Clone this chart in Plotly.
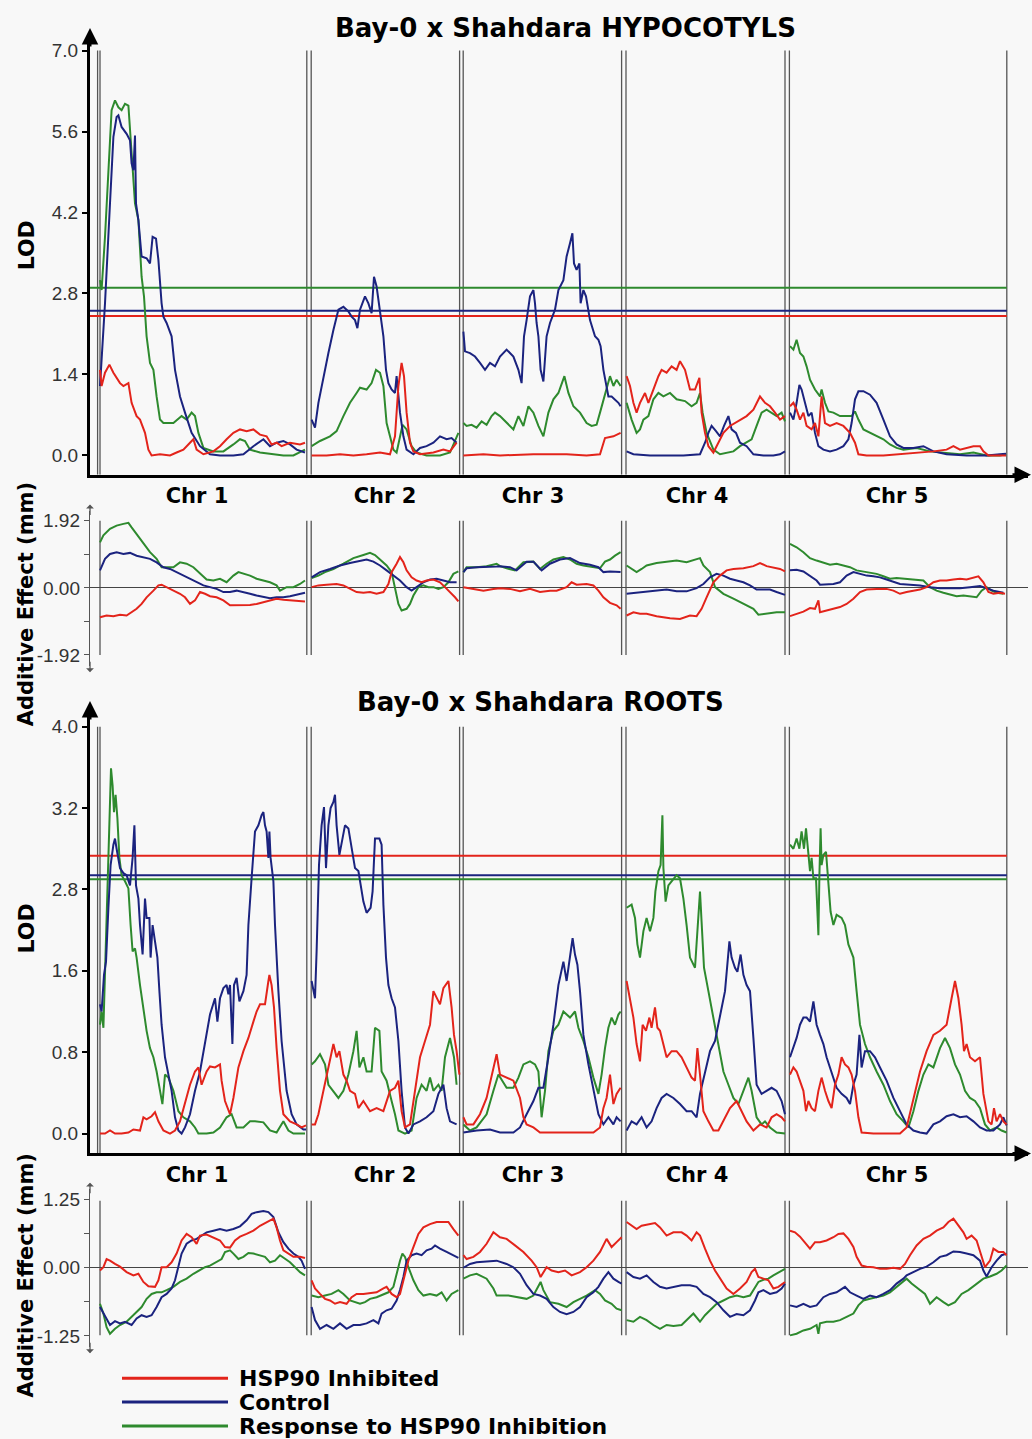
import plotly.graph_objects as go

W, H = 1032, 1439

# ---------------- categories / labels ----------------
SERIES = ["HSP90 Inhibited", "Control", "Response to HSP90 Inhibition"]
COLORS = ["#e3241b", "#1b237f", "#2e8a2e"]

CHROMS = ["Chr 1", "Chr 2", "Chr 3", "Chr 4", "Chr 5"]
CHR_START = [0.0, 105.6, 181.6, 263.0, 344.7]      # cumulative cM
CHR_END = [103.4, 179.8, 260.8, 342.5, 453.4]
CHR_LABEL_POS = [48.5, 142.5, 216.5, 298.5, 398.5]

# significance thresholds (order as SERIES)
HYP_THRESH = [2.41, 2.50, 2.90]
ROOT_THRESH = [2.73, 2.54, 2.50]

HYP_LOD_TICKS = [0.0, 1.4, 2.8, 4.2, 5.6, 7.0]
HYP_LOD_TICKTEXT = ["0.0", "1.4", "2.8", "4.2", "5.6", "7.0"]
ROOT_LOD_TICKS = [0.0, 0.8, 1.6, 2.4, 3.2, 4.0]
ROOT_LOD_TICKTEXT = ["0.0", "0.8", "1.6", "2.8", "3.2", "4.0"]   # as printed in the source
HYP_ADD_TICKS = [-1.92, -0.96, 0.0, 0.96, 1.92]
HYP_ADD_TICKTEXT = ["-1.92", "", "0.00", "", "1.92"]
ROOT_ADD_TICKS = [-1.25, -0.625, 0.0, 0.625, 1.25]
ROOT_ADD_TICKTEXT = ["-1.25", "", "0.00", "", "1.25"]

# ---------------- data: (position cM, value) ----------------
HYP_LOD_INH = [(0.0,1.48),(0.8,1.20),(2.5,1.43),(4.7,1.57),(6.7,1.43),(10.0,1.25),(11.7,1.20),(14.2,1.25),(15.8,0.91),(18.3,0.68),(20.0,0.62),(22.5,0.39),(24.2,0.10),(25.8,0.0),(30.0,0.02),(35.0,0.0),(38.3,0.05),(41.7,0.10),(45.0,0.22),(46.7,0.28),(48.3,0.10),(51.7,0.02),(56.7,0.07),(60.0,0.16),(63.3,0.28),(66.7,0.39),(70.0,0.45),(73.3,0.42),(76.7,0.45),(80.0,0.36),(83.3,0.33),(85.8,0.19),(88.3,0.22),(90.8,0.16),(95.0,0.22),(100.0,0.19),(102.5,0.22),
    (105.8,0.0),(113.3,0.0),(120.0,0.02),(126.7,0.0),(133.3,0.02),(140.0,0.05),(145.0,0.02),(147.5,0.33),(149.2,1.20),(150.8,1.60),(152.0,1.37),(153.3,0.74),(155.0,0.22),(156.7,0.07),(160.0,0.02),(166.7,0.05),(171.7,0.10),(175.0,0.07),(178.3,0.22),
    (181.7,0.0),(191.7,0.02),(200.0,0.0),(216.7,0.02),(233.3,0.02),(243.3,0.0),(250.0,0.02),(252.5,0.30),(256.7,0.33),(260.3,0.39),
    (263.3,1.37),(265.0,1.20),(266.7,0.91),(268.3,0.74),(270.0,0.91),(272.5,1.08),(274.2,0.91),(276.7,1.14),(279.2,1.37),(280.8,1.48),(283.3,1.43),(285.8,1.54),(288.3,1.48),(290.0,1.63),(292.5,1.48),(295.0,1.14),(297.5,1.14),(299.7,1.34),(300.8,0.74),(302.5,0.39),(304.2,0.16),(306.7,0.05),(309.2,0.22),(311.7,0.39),(315.0,0.51),(317.5,0.56),(320.0,0.62),(323.3,0.68),(326.7,0.79),(330.0,1.02),(332.5,0.91),(335.0,0.85),(337.5,0.74),(340.0,0.62),(342.5,0.68),
    (345.0,0.85),(346.7,0.91),(348.3,0.79),(350.0,0.62),(351.7,0.74),(353.3,0.51),(355.8,0.45),(357.5,0.56),(359.2,0.33),(360.8,1.02),(362.5,0.56),(365.0,0.51),(368.3,0.56),(371.7,0.51),(375.0,0.39),(377.5,0.22),(379.2,0.02),(383.3,0.0),(391.7,0.0),(400.0,0.02),(408.3,0.05),(416.7,0.07),(423.3,0.10),(426.7,0.16),(430.0,0.10),(433.3,0.13),(436.7,0.16),(440.0,0.16),(441.7,0.07),(444.2,0.0),(450.0,0.0),(453.0,0.0)]

HYP_LOD_CTL = [(0.0,1.20),(2.5,2.63),(5.0,4.36),(6.7,5.51),(8.3,5.85),(9.2,5.88),(10.8,5.68),(13.3,5.56),(15.0,5.45),(15.8,5.05),(16.7,4.93),(17.5,5.53),(18.0,4.36),(19.2,4.07),(20.8,3.44),(23.3,3.41),(25.0,3.32),(26.3,3.78),(28.0,3.75),(29.2,3.38),(30.8,2.63),(31.7,2.40),(33.3,2.29),(35.8,2.06),(37.5,1.48),(40.0,1.02),(42.5,0.74),(45.8,0.39),(50.0,0.16),(55.0,0.02),(60.0,0.0),(66.7,0.0),(71.7,0.02),(76.7,0.16),(81.7,0.28),(85.0,0.16),(88.3,0.22),(91.7,0.25),(95.0,0.19),(98.3,0.10),(102.5,0.05),
    (105.8,0.62),(107.5,0.48),(109.2,0.91),(111.7,1.37),(114.2,1.77),(116.7,2.17),(119.2,2.52),(121.7,2.57),(124.2,2.49),(125.8,2.40),(127.5,2.34),(128.7,2.20),(130.0,2.52),(132.5,2.75),(134.2,2.63),(135.8,2.46),(137.0,3.09),(138.3,2.92),(140.0,2.52),(141.7,2.06),(143.0,1.48),(144.2,1.25),(145.8,1.14),(147.5,1.08),(148.3,1.37),(149.2,1.08),(150.0,0.74),(151.7,0.33),(153.3,0.10),(156.7,0.02),(160.0,0.13),(163.3,0.16),(166.7,0.22),(170.0,0.33),(173.3,0.28),(175.8,0.30),(178.3,0.22),
    (181.7,2.14),(182.5,1.80),(185.0,1.77),(187.5,1.71),(190.0,1.60),(192.5,1.48),(195.0,1.60),(197.5,1.54),(200.0,1.71),(203.3,1.83),(206.7,1.71),(209.2,1.48),(210.8,1.25),(212.0,2.06),(213.3,2.34),(215.0,2.75),(216.7,2.86),(217.5,2.63),(218.3,2.29),(219.2,2.06),(220.3,1.48),(221.7,1.28),(223.3,2.06),(225.0,2.29),(227.5,2.52),(229.2,2.86),(231.7,3.03),(233.3,3.44),(235.0,3.67),(236.2,3.84),(237.0,3.32),(238.3,3.21),(239.7,3.32),(240.3,2.63),(241.7,2.86),(243.0,2.75),(245.0,2.34),(247.5,2.06),(249.2,2.00),(250.3,1.89),(251.7,1.48),(253.0,1.20),(254.2,1.02),(255.8,1.02),(257.5,0.97),(259.2,0.91),(260.3,0.85),
    (263.3,0.07),(266.7,0.02),(275.0,0.0),(283.3,0.0),(291.7,0.0),(300.0,0.02),(302.5,0.22),(304.2,0.39),(305.8,0.51),(308.0,0.42),(310.0,0.33),(312.0,0.51),(314.2,0.68),(315.8,0.45),(318.0,0.39),(320.0,0.22),(323.3,0.16),(326.7,0.02),(331.7,0.0),(336.7,0.0),(340.0,0.02),(342.5,0.07),
    (345.0,0.74),(346.7,0.62),(348.3,0.91),(349.7,1.22),(350.8,1.14),(352.5,0.91),(354.2,0.68),(355.8,0.74),(357.5,0.39),(359.2,0.16),(361.7,0.10),(365.0,0.07),(368.3,0.10),(371.7,0.16),(374.2,0.28),(375.8,0.56),(377.5,0.97),(379.2,1.11),(381.7,1.11),(385.0,1.05),(388.3,0.91),(391.7,0.62),(395.0,0.33),(398.3,0.19),(401.7,0.13),(406.7,0.13),(411.7,0.16),(416.7,0.07),(423.3,0.02),(433.3,0.0),(443.3,0.0),(450.0,0.02),(453.0,0.03)]

HYP_LOD_RSP = [(0.0,3.03),(0.8,2.86),(2.5,3.78),(4.2,4.93),(5.8,5.97),(7.5,6.14),(9.2,6.02),(10.8,5.97),(12.5,6.08),(14.2,6.05),(15.8,5.22),(17.5,4.36),(19.2,4.07),(20.8,3.09),(22.0,2.75),(23.3,2.06),(25.0,1.60),(26.7,1.48),(28.3,1.02),(30.0,0.62),(31.7,0.56),(36.7,0.56),(40.8,0.68),(43.3,0.62),(45.8,0.74),(47.5,0.68),(49.2,0.39),(51.7,0.13),(56.7,0.07),(61.7,0.07),(66.7,0.19),(70.0,0.28),(72.5,0.25),(75.0,0.10),(80.0,0.05),(86.7,0.02),(91.7,0.0),(96.7,0.0),(102.5,0.10),
    (105.8,0.16),(110.0,0.25),(115.0,0.33),(118.3,0.42),(121.7,0.68),(125.0,0.91),(128.3,1.08),(130.0,1.17),(133.3,1.14),(135.8,1.25),(138.0,1.48),(140.0,1.43),(141.7,1.20),(143.3,0.56),(145.0,0.33),(146.7,0.10),(148.3,0.05),(150.0,0.33),(151.3,0.53),(153.3,0.45),(155.8,0.16),(158.3,0.05),(163.3,0.0),(170.0,0.0),(175.0,0.05),(179.2,0.39),
    (181.7,0.56),(183.3,0.51),(185.8,0.53),(188.3,0.48),(190.8,0.59),(193.3,0.53),(195.8,0.68),(197.5,0.74),(200.0,0.68),(203.3,0.56),(206.7,0.45),(209.2,0.68),(211.7,0.51),(214.2,0.85),(216.7,0.74),(219.2,0.51),(221.7,0.33),(224.2,0.74),(226.7,0.97),(229.2,1.08),(232.2,1.37),(234.2,1.08),(236.7,0.85),(240.0,0.74),(243.3,0.56),(245.8,0.51),(248.3,0.53),(250.0,0.74),(252.5,1.08),(255.0,1.37),(256.7,1.20),(258.3,1.31),(260.3,1.20),
    (263.3,0.91),(265.8,0.62),(268.3,0.39),(270.0,0.45),(271.7,0.62),(274.2,0.68),(276.7,0.97),(279.2,1.08),(281.7,1.02),(285.0,1.08),(288.3,0.97),(292.5,0.94),(295.8,0.85),(298.3,0.91),(300.0,1.08),(301.3,0.74),(303.3,0.39),(306.7,0.10),(310.0,0.02),(313.3,0.05),(316.7,0.07),(320.0,0.16),(323.3,0.22),(325.8,0.28),(328.3,0.51),(330.8,0.74),(333.3,0.79),(335.8,0.74),(338.3,0.68),(340.8,0.74),(342.5,0.59),
    (345.0,1.89),(346.7,1.83),(348.3,2.00),(350.0,1.77),(351.7,1.71),(353.3,1.54),(355.0,1.31),(357.5,1.14),(360.0,1.02),(360.8,1.14),(362.5,0.91),(364.2,0.76),(366.7,0.74),(370.0,0.68),(373.3,0.68),(375.8,0.68),(377.5,0.76),(379.2,0.62),(381.7,0.45),(385.0,0.39),(388.3,0.33),(391.7,0.28),(395.0,0.19),(398.3,0.13),(401.7,0.10),(408.3,0.13),(415.0,0.07),(421.7,0.05),(430.0,0.02),(436.7,0.05),(443.3,0.0),(450.0,0.0),(453.0,0.02)]

HYP_ADD_INH = [(0.0,-0.84),(3.3,-0.79),(6.7,-0.81),(10.0,-0.77),(13.3,-0.79),(15.8,-0.70),(18.3,-0.60),(20.8,-0.46),(23.3,-0.27),(26.7,-0.08),(29.2,0.07),(30.8,0.09),(33.3,0.02),(36.7,-0.08),(40.0,-0.17),(42.5,-0.27),(45.0,-0.46),(47.5,-0.36),(50.0,-0.12),(52.5,-0.17),(55.0,-0.24),(58.3,-0.27),(61.7,-0.36),(65.0,-0.50),(68.3,-0.50),(71.7,-0.49),(75.0,-0.49),(78.3,-0.46),(81.7,-0.41),(85.0,-0.36),(88.3,-0.31),(91.7,-0.34),(95.0,-0.36),(98.3,-0.36),(102.5,-0.39),
    (105.8,0.02),(109.2,0.07),(113.3,0.09),(118.3,0.11),(121.7,0.07),(125.0,-0.03),(128.3,-0.12),(131.7,-0.14),(135.0,-0.12),(138.3,-0.17),(141.7,-0.12),(144.2,0.11),(145.8,0.45),(148.3,0.69),(150.0,0.88),(151.7,0.73),(153.3,0.50),(155.8,0.30),(158.3,0.21),(160.8,0.16),(163.3,0.21),(166.7,0.24),(170.0,0.16),(172.5,0.02),(175.0,-0.12),(177.5,-0.27),(179.2,-0.39),
    (181.7,0.02),(186.7,-0.03),(191.7,-0.08),(196.7,-0.03),(200.0,-0.01),(205.0,-0.03),(210.0,-0.10),(215.0,-0.03),(220.0,-0.12),(225.0,-0.08),(228.3,-0.08),(233.3,0.02),(235.8,0.16),(238.3,0.09),(243.3,0.11),(246.7,0.07),(249.2,-0.08),(251.7,-0.27),(255.0,-0.43),(258.3,-0.50),(260.3,-0.60),
    (263.3,-0.79),(266.7,-0.70),(270.0,-0.74),(273.3,-0.74),(278.3,-0.81),(281.7,-0.84),(285.0,-0.87),(290.0,-0.89),(295.0,-0.79),(298.3,-0.81),(300.8,-0.60),(303.3,-0.27),(306.7,0.16),(310.0,0.35),(313.3,0.50),(316.7,0.54),(321.7,0.56),(326.7,0.62),(330.0,0.71),(333.3,0.62),(336.7,0.59),(340.0,0.54),(342.5,0.47),
    (345.0,-0.81),(348.3,-0.74),(351.7,-0.68),(355.0,-0.58),(357.5,-0.60),(359.2,-0.36),(360.0,-0.70),(363.3,-0.65),(366.7,-0.60),(370.0,-0.55),(373.3,-0.46),(376.7,-0.31),(380.0,-0.12),(383.3,-0.05),(388.3,-0.03),(393.3,-0.03),(396.7,-0.08),(400.0,-0.17),(403.3,-0.12),(406.7,-0.08),(410.0,-0.05),(413.3,0.02),(416.7,0.16),(420.0,0.21),(423.3,0.21),(426.7,0.24),(430.0,0.26),(433.3,0.24),(436.7,0.28),(439.2,0.33),(441.7,0.16),(444.2,-0.12),(446.7,-0.17),(450.0,-0.14),(452.5,-0.17)]

HYP_ADD_CTL = [(0.0,0.50),(2.5,0.83),(5.0,0.97),(8.3,1.02),(11.7,0.97),(15.0,1.00),(18.3,0.92),(21.7,0.88),(25.0,0.83),(28.3,0.73),(31.7,0.59),(35.0,0.54),(38.3,0.45),(41.7,0.35),(45.0,0.26),(48.3,0.16),(51.7,0.07),(55.0,0.02),(58.3,-0.03),(61.7,-0.12),(65.0,-0.12),(68.3,-0.08),(71.7,-0.12),(75.0,-0.17),(78.3,-0.22),(81.7,-0.27),(85.0,-0.30),(88.3,-0.27),(91.7,-0.27),(95.0,-0.24),(98.3,-0.20),(102.5,-0.14),
    (105.8,0.30),(110.0,0.45),(115.0,0.54),(120.0,0.64),(125.0,0.71),(130.0,0.78),(133.3,0.81),(136.7,0.75),(140.0,0.64),(143.3,0.50),(146.7,0.35),(150.0,0.21),(153.3,0.02),(155.8,-0.08),(158.3,0.02),(161.7,0.16),(165.0,0.24),(168.3,0.26),(171.7,0.21),(175.0,0.16),(178.3,0.16),
    (181.7,0.45),(183.3,0.56),(188.3,0.59),(193.3,0.59),(198.3,0.61),(200.0,0.62),(205.0,0.59),(208.3,0.50),(213.3,0.75),(216.7,0.75),(220.8,0.50),(225.0,0.69),(230.0,0.81),(235.0,0.85),(240.0,0.71),(245.0,0.66),(249.2,0.59),(251.7,0.45),(255.0,0.47),(260.3,0.45),
    (263.3,-0.17),(268.3,-0.14),(273.3,-0.10),(278.3,-0.08),(283.3,-0.05),(288.3,-0.10),(293.3,-0.10),(298.3,-0.01),(301.7,0.11),(305.0,0.30),(308.3,0.40),(311.7,0.35),(315.0,0.26),(318.3,0.21),(321.7,0.16),(325.0,0.07),(328.3,-0.05),(331.7,-0.05),(335.0,-0.05),(338.3,-0.12),(342.5,-0.20),
    (345.0,0.50),(348.3,0.52),(351.7,0.47),(355.0,0.35),(358.3,0.21),(360.0,0.09),(363.3,0.09),(366.7,0.11),(370.0,0.16),(373.3,0.35),(376.7,0.45),(380.0,0.40),(383.3,0.35),(386.7,0.33),(390.0,0.30),(393.3,0.24),(396.7,0.18),(400.0,0.11),(405.0,0.09),(410.0,0.07),(415.0,0.02),(420.0,-0.01),(425.0,-0.01),(430.0,-0.01),(435.0,0.02),(440.0,0.05),(443.3,-0.01),(446.7,-0.08),(451.7,-0.14)]

HYP_ADD_RSP = [(0.0,1.30),(1.7,1.50),(5.0,1.69),(8.3,1.78),(11.7,1.83),(14.2,1.86),(15.8,1.73),(18.3,1.54),(21.7,1.26),(25.0,1.02),(28.3,0.83),(30.8,0.59),(33.3,0.59),(36.7,0.59),(40.0,0.73),(43.3,0.69),(46.7,0.59),(50.0,0.40),(53.3,0.24),(56.7,0.21),(60.0,0.26),(63.3,0.16),(66.7,0.35),(69.2,0.45),(71.7,0.40),(75.0,0.35),(78.3,0.26),(81.7,0.21),(85.0,0.16),(88.3,0.07),(90.0,-0.08),(93.3,0.02),(96.7,0.02),(100.0,0.11),(102.5,0.21),
    (105.8,0.28),(109.2,0.35),(112.5,0.45),(116.7,0.54),(121.7,0.69),(126.7,0.85),(131.7,0.94),(135.0,1.00),(137.5,0.94),(140.0,0.81),(143.3,0.64),(145.8,0.45),(147.5,0.02),(149.2,-0.46),(150.8,-0.65),(153.3,-0.60),(155.0,-0.46),(156.7,-0.22),(159.2,0.02),(161.7,0.07),(164.2,0.02),(166.7,0.02),(169.2,-0.03),(171.7,0.02),(174.2,0.16),(176.7,0.40),(179.2,0.47),
    (181.7,0.45),(183.3,0.59),(188.3,0.59),(193.3,0.62),(198.3,0.69),(200.0,0.62),(203.3,0.56),(207.5,0.50),(211.7,0.73),(216.7,0.75),(220.0,0.54),(223.3,0.69),(226.7,0.81),(231.7,0.88),(235.0,0.81),(238.3,0.69),(241.7,0.64),(246.7,0.59),(250.0,0.56),(252.5,0.75),(255.0,0.81),(257.5,0.92),(260.3,1.02),
    (263.3,0.64),(265.8,0.54),(268.3,0.45),(270.8,0.54),(273.3,0.64),(278.3,0.71),(283.3,0.75),(288.3,0.78),(293.3,0.73),(298.3,0.81),(300.0,0.85),(301.7,0.64),(305.0,0.45),(307.5,0.02),(311.7,-0.17),(316.7,-0.31),(321.7,-0.46),(326.7,-0.60),(329.2,-0.77),(333.3,-0.74),(338.3,-0.70),(342.5,-0.70),
    (345.0,1.26),(348.3,1.16),(351.7,1.02),(355.0,0.85),(358.3,0.78),(361.7,0.73),(365.0,0.66),(368.3,0.69),(371.7,0.64),(375.0,0.59),(378.3,0.50),(381.7,0.47),(385.0,0.45),(388.3,0.40),(391.7,0.33),(395.0,0.26),(398.3,0.28),(401.7,0.26),(405.0,0.24),(408.3,0.21),(411.7,0.21),(415.0,0.02),(418.3,-0.08),(421.7,-0.14),(425.0,-0.20),(428.3,-0.24),(431.7,-0.22),(435.0,-0.24),(438.3,-0.27),(440.8,-0.08),(443.3,0.02),(445.8,-0.08),(448.3,-0.14),(451.7,-0.17)]

ROOT_LOD_INH = [(0.0,0.0),(2.5,0.0),(5.0,0.03),(7.5,0.0),(10.8,0.0),(14.2,0.01),(16.7,0.04),(20.0,0.03),(21.7,0.16),(23.3,0.14),(25.8,0.17),(27.5,0.21),(29.2,0.12),(31.7,0.03),(35.0,0.0),(37.5,0.03),(40.0,0.12),(42.5,0.29),(45.0,0.48),(47.5,0.61),(49.2,0.65),(50.8,0.48),(53.3,0.61),(55.0,0.66),(57.5,0.65),(60.0,0.68),(60.8,0.52),(62.5,0.32),(65.0,0.19),(66.7,0.35),(69.2,0.65),(71.7,0.81),(74.2,0.94),(76.7,1.10),(78.3,1.20),(80.0,1.27),(82.5,1.27),(84.2,1.50),(84.7,1.56),(85.8,1.46),(87.0,1.24),(88.3,0.84),(90.0,0.42),(91.7,0.19),(95.0,0.12),(98.3,0.09),(100.8,0.06),(103.0,0.08),
    (105.8,0.09),(107.5,0.09),(109.2,0.19),(111.7,0.42),(114.2,0.65),(116.7,0.88),(118.3,0.75),(119.7,0.81),(121.7,0.58),(123.3,0.52),(125.0,0.42),(127.5,0.39),(129.2,0.25),(131.7,0.32),(135.0,0.22),(138.3,0.25),(141.7,0.22),(145.0,0.42),(147.5,0.45),(149.2,0.52),(150.8,0.22),(152.5,0.06),(155.0,0.09),(157.5,0.42),(160.0,0.75),(162.5,0.91),(165.0,1.07),(166.7,1.40),(168.3,1.33),(170.0,1.27),(171.7,1.43),(174.2,1.50),(175.8,1.24),(177.0,0.97),(178.3,0.81),(179.7,0.58),
    (181.7,0.16),(183.3,0.09),(186.7,0.09),(190.0,0.19),(193.3,0.35),(196.7,0.65),(198.3,0.78),(200.0,0.58),(203.3,0.55),(206.7,0.52),(210.0,0.35),(211.7,0.16),(213.3,0.09),(216.7,0.06),(220.0,0.01),(226.7,0.01),(233.3,0.01),(240.0,0.01),(246.7,0.01),(250.0,0.06),(251.7,0.25),(253.3,0.35),(255.0,0.58),(256.7,0.29),(258.3,0.39),(260.3,0.45),
    (263.3,1.50),(265.0,1.33),(266.7,1.14),(268.3,0.88),(270.0,0.71),(271.3,1.07),(273.0,1.01),(274.7,1.14),(275.8,1.04),(277.5,1.24),(278.7,1.04),(280.0,1.01),(281.7,0.88),(283.3,0.75),(285.8,0.81),(288.3,0.81),(290.8,0.75),(293.3,0.65),(295.8,0.55),(297.5,0.52),(298.7,0.84),(300.0,0.58),(301.7,0.22),(304.2,0.12),(306.7,0.03),(309.2,0.03),(311.7,0.12),(315.0,0.25),(318.3,0.32),(320.8,0.22),(323.3,0.12),(326.7,0.03),(330.0,0.09),(333.3,0.06),(335.8,0.16),(338.3,0.19),(340.8,0.16),(342.5,0.12),
    (345.0,0.58),(346.7,0.65),(348.3,0.61),(350.0,0.52),(351.7,0.42),(353.0,0.22),(354.2,0.32),(355.8,0.25),(357.5,0.22),(359.2,0.42),(360.8,0.55),(362.5,0.42),(364.2,0.32),(365.8,0.25),(367.5,0.48),(369.2,0.58),(370.8,0.75),(372.5,0.68),(374.2,0.65),(375.8,0.58),(377.5,0.42),(379.2,0.16),(380.8,0.01),(386.7,0.0),(393.3,0.0),(400.0,0.0),(403.3,0.06),(406.7,0.35),(410.0,0.61),(413.3,0.81),(416.7,0.97),(420.0,1.01),(423.3,1.07),(425.8,1.33),(427.5,1.50),(429.2,1.33),(430.8,1.07),(432.0,0.81),(433.3,0.88),(435.0,0.75),(437.5,0.71),(440.0,0.75),(441.7,0.39),(444.2,0.12),(445.8,0.09),(447.0,0.25),(448.3,0.12),(450.0,0.19),(451.7,0.12),(453.3,0.09)]

ROOT_LOD_CTL = [(0.0,1.27),(0.8,1.20),(2.0,1.56),(3.0,1.69),(4.2,2.22),(5.3,2.64),(6.7,2.84),(7.5,2.90),(8.3,2.80),(10.0,2.61),(11.7,2.56),(13.3,2.54),(15.0,2.44),(16.3,2.71),(17.2,3.03),(18.0,2.44),(19.2,2.31),(20.0,2.05),(21.3,1.76),(22.5,2.31),(23.3,2.12),(24.7,2.12),(25.3,1.73),(26.3,2.05),(27.5,1.89),(28.7,1.73),(29.7,1.40),(30.8,1.07),(32.5,0.75),(34.2,0.58),(35.8,0.42),(37.5,0.16),(39.2,0.03),(40.8,0.0),(42.5,0.06),(45.0,0.19),(47.5,0.42),(50.0,0.61),(52.5,0.91),(55.0,1.17),(57.5,1.33),(58.7,1.10),(60.0,1.33),(61.7,1.43),(63.3,1.46),(64.2,1.37),(65.0,1.46),(66.2,0.88),(67.0,1.46),(68.3,1.53),(69.7,1.30),(71.7,1.40),(73.3,1.56),(74.2,2.05),(75.8,2.51),(77.5,2.97),(79.2,3.03),(80.8,3.13),(81.7,3.16),(82.5,3.03),(83.3,2.97),(84.2,2.71),(84.7,2.97),(85.3,2.71),(86.7,2.48),(87.5,2.05),(89.2,1.40),(90.8,0.91),(93.3,0.42),(95.8,0.19),(98.3,0.09),(101.7,0.04),(103.0,0.04),
    (105.8,1.50),(106.7,1.40),(107.5,1.33),(108.3,1.79),(109.5,2.64),(110.8,3.03),(112.0,3.21),(113.0,2.61),(114.2,3.03),(115.3,3.20),(116.7,3.26),(117.5,3.33),(118.3,3.03),(119.7,2.74),(120.8,2.87),(122.5,3.03),(124.2,3.00),(125.8,2.80),(127.5,2.61),(129.2,2.58),(130.3,2.44),(131.7,2.28),(133.3,2.17),(135.3,2.22),(136.3,2.38),(137.5,2.90),(139.7,2.90),(140.8,2.84),(141.7,2.25),(143.0,1.73),(144.2,1.46),(145.8,1.33),(147.5,1.24),(149.2,0.91),(150.8,0.42),(152.5,0.06),(154.2,0.0),(156.7,0.09),(160.0,0.12),(163.3,0.16),(166.7,0.22),(169.2,0.39),(171.7,0.48),(173.3,0.25),(175.0,0.12),(178.3,0.09),
    (181.7,0.01),(188.3,0.03),(195.0,0.04),(200.0,0.01),(206.7,0.01),(210.0,0.06),(213.3,0.19),(216.7,0.32),(219.2,0.45),(221.7,0.45),(224.2,0.75),(226.7,1.07),(229.2,1.46),(231.7,1.69),(233.3,1.50),(235.0,1.76),(236.3,1.92),(237.5,1.76),(238.7,1.66),(240.0,1.40),(241.7,0.97),(244.2,0.68),(246.7,0.42),(249.2,0.19),(251.7,0.09),(254.2,0.16),(256.7,0.09),(258.3,0.16),(260.3,0.12),
    (263.3,0.03),(265.8,0.12),(268.3,0.09),(270.8,0.16),(273.3,0.06),(275.8,0.12),(278.3,0.25),(280.8,0.35),(283.3,0.39),(286.7,0.35),(290.0,0.29),(293.3,0.22),(295.8,0.22),(298.3,0.16),(300.0,0.39),(302.5,0.61),(305.0,0.81),(307.5,0.91),(310.0,1.17),(312.5,1.40),(314.7,1.89),(315.8,1.73),(317.5,1.63),(318.7,1.59),(320.3,1.76),(321.7,1.56),(323.3,1.46),(325.0,1.40),(326.7,0.94),(328.3,0.48),(330.8,0.39),(333.3,0.42),(335.8,0.45),(338.3,0.42),(340.8,0.32),(342.5,0.19),
    (345.0,0.75),(346.7,0.84),(348.3,0.94),(350.0,1.07),(351.7,1.14),(353.3,1.14),(355.0,1.10),(356.7,1.30),(358.3,1.07),(360.0,0.97),(361.7,0.88),(363.3,0.75),(365.0,0.65),(366.7,0.55),(368.3,0.45),(370.8,0.39),(373.3,0.35),(375.0,0.29),(376.7,0.48),(378.3,0.58),(379.7,0.97),(380.8,0.65),(382.5,0.81),(385.0,0.81),(387.5,0.75),(390.0,0.65),(393.3,0.52),(396.7,0.35),(400.0,0.22),(403.3,0.09),(406.7,0.03),(410.0,0.01),(413.3,0.0),(416.7,0.09),(420.0,0.12),(423.3,0.17),(426.7,0.19),(430.0,0.16),(433.3,0.17),(436.7,0.12),(440.0,0.06),(443.3,0.03),(446.7,0.03),(450.0,0.09),(451.7,0.16),(453.3,0.08)]

ROOT_LOD_RSP = [(0.0,1.07),(0.8,1.20),(1.7,1.04),(2.5,1.56),(3.3,2.05),(4.2,2.87),(5.0,3.36),(5.5,3.59),(6.3,3.42),(7.0,3.16),(7.8,3.33),(8.7,3.10),(9.7,2.71),(10.8,2.54),(12.5,2.48),(14.2,2.41),(15.3,2.05),(16.3,1.79),(17.5,1.82),(18.3,1.73),(20.0,1.46),(21.7,1.20),(23.3,1.01),(25.0,0.84),(26.7,0.75),(28.3,0.61),(30.0,0.42),(31.2,0.29),(32.5,0.58),(34.2,0.55),(36.7,0.42),(39.2,0.22),(41.7,0.16),(45.0,0.12),(47.5,0.06),(49.2,0.0),(53.3,0.0),(56.7,0.01),(60.0,0.06),(63.3,0.16),(65.8,0.19),(68.3,0.06),(71.7,0.06),(75.0,0.12),(77.5,0.12),(81.7,0.11),(85.0,0.03),(88.3,0.01),(91.7,0.12),(94.2,0.03),(96.7,0.0),(102.5,0.0),
    (105.8,0.68),(107.5,0.71),(110.0,0.78),(112.5,0.68),(114.2,0.48),(116.7,0.42),(119.2,0.35),(121.7,0.42),(124.2,0.58),(126.7,0.81),(128.3,1.01),(129.7,0.65),(131.7,0.75),(133.3,0.61),(135.8,0.61),(137.5,1.04),(139.7,1.01),(140.8,0.61),(143.3,0.52),(145.8,0.32),(147.5,0.19),(149.2,0.03),(152.5,0.0),(155.8,0.03),(158.3,0.35),(160.8,0.48),(163.3,0.42),(165.0,0.55),(166.7,0.42),(169.2,0.48),(170.8,0.42),(172.5,0.75),(175.0,0.94),(177.0,0.75),(178.3,0.48),
    (181.7,0.09),(185.0,0.03),(188.3,0.06),(193.3,0.19),(196.7,0.42),(199.2,0.58),(203.3,0.45),(206.7,0.45),(209.2,0.55),(211.7,0.68),(215.0,0.71),(217.5,0.68),(219.2,0.61),(220.8,0.16),(222.5,0.42),(224.2,0.81),(226.7,1.01),(229.2,1.07),(231.7,1.20),(235.0,1.14),(237.5,1.20),(239.2,1.04),(241.7,0.91),(244.2,0.75),(246.7,0.55),(249.2,0.39),(250.8,0.58),(252.5,0.84),(254.2,1.04),(255.8,1.14),(257.5,1.07),(259.2,1.17),(260.3,1.20),
    (263.3,2.22),(265.8,2.25),(267.5,2.12),(268.7,1.86),(270.0,1.73),(271.7,1.99),(273.3,2.12),(275.0,1.99),(276.7,2.12),(277.7,2.38),(279.2,2.58),(280.3,2.64),(281.2,3.13),(281.7,2.61),(282.8,2.28),(284.2,2.44),(285.8,2.48),(288.3,2.54),(290.0,2.51),(291.7,2.31),(293.3,2.05),(295.0,1.73),(297.5,1.63),(299.2,2.12),(300.0,2.38),(300.8,2.08),(302.0,1.63),(304.2,1.40),(306.7,1.14),(309.2,0.88),(311.7,0.61),(314.2,0.48),(316.7,0.35),(319.2,0.29),(321.7,0.42),(324.2,0.55),(325.8,0.42),(328.3,0.16),(330.8,0.09),(332.5,0.12),(335.0,0.06),(338.3,0.01),(342.5,0.0),
    (345.0,2.84),(346.7,2.80),(348.3,2.90),(349.7,2.80),(350.8,2.97),(352.0,2.80),(353.0,3.00),(354.2,2.77),(355.0,2.58),(355.8,2.71),(356.7,2.51),(358.0,2.51),(358.7,2.08),(359.2,1.95),(359.7,2.54),(360.3,3.00),(360.8,2.64),(361.7,2.74),(363.0,2.77),(364.2,2.44),(365.3,2.18),(366.7,2.05),(368.3,2.15),(370.8,2.12),(372.5,2.05),(374.2,1.86),(376.7,1.73),(378.3,1.40),(380.0,1.07),(382.5,0.88),(385.0,0.75),(388.3,0.61),(391.7,0.48),(395.0,0.32),(398.3,0.19),(401.7,0.12),(404.2,0.06),(406.7,0.22),(409.2,0.42),(411.7,0.58),(414.2,0.68),(416.7,0.65),(420.0,0.84),(422.5,0.94),(425.0,0.84),(427.5,0.68),(430.0,0.58),(432.5,0.42),(435.0,0.35),(437.5,0.32),(440.0,0.25),(442.5,0.09),(445.0,0.03),(448.3,0.06),(450.8,0.03),(453.3,0.01)]

ROOT_ADD_INH = [(0.0,-0.05),(1.7,0.01),(3.3,0.16),(5.0,0.13),(7.5,0.07),(10.0,0.02),(13.3,-0.08),(16.7,-0.14),(19.2,-0.11),(21.7,-0.26),(24.2,-0.34),(27.5,-0.35),(29.2,-0.23),(30.8,0.01),(33.3,0.01),(35.8,0.10),(38.3,0.26),(40.8,0.50),(43.3,0.62),(45.8,0.56),(48.3,0.44),(50.0,0.59),(53.3,0.61),(56.7,0.56),(60.0,0.50),(62.5,0.38),(65.0,0.37),(67.5,0.50),(70.0,0.57),(73.3,0.62),(76.7,0.68),(80.0,0.77),(83.3,0.84),(86.7,0.90),(88.3,0.74),(90.0,0.50),(91.7,0.32),(94.2,0.26),(96.7,0.20),(100.0,0.20),(102.5,0.18),
    (105.8,-0.23),(107.5,-0.38),(110.0,-0.48),(112.5,-0.57),(115.0,-0.60),(117.5,-0.66),(120.0,-0.63),(123.3,-0.66),(125.8,-0.54),(128.3,-0.48),(131.7,-0.48),(135.0,-0.46),(138.3,-0.45),(141.7,-0.38),(143.3,-0.35),(145.8,-0.48),(148.3,-0.54),(150.0,-0.48),(151.7,-0.23),(154.2,0.13),(156.7,0.38),(159.2,0.62),(161.7,0.74),(165.0,0.80),(168.3,0.84),(171.7,0.84),(174.2,0.84),(176.7,0.71),(179.2,0.59),
    (181.7,0.23),(183.3,0.16),(186.7,0.20),(190.0,0.29),(193.3,0.44),(196.7,0.65),(200.0,0.56),(203.3,0.53),(207.5,0.41),(211.7,0.29),(215.8,0.13),(218.3,0.01),(220.3,-0.17),(223.3,0.01),(225.8,-0.05),(229.2,-0.08),(232.5,-0.05),(235.8,-0.14),(240.0,-0.08),(243.3,0.01),(246.7,0.13),(250.0,0.29),(253.3,0.53),(255.8,0.38),(258.3,0.47),(260.8,0.56),
    (263.3,0.84),(265.8,0.77),(268.3,0.71),(270.8,0.77),(274.2,0.80),(277.5,0.82),(280.0,0.74),(283.3,0.59),(286.7,0.65),(290.8,0.65),(293.3,0.59),(295.8,0.50),(298.3,0.65),(300.0,0.59),(302.5,0.35),(305.0,0.13),(307.5,-0.05),(310.0,-0.20),(313.3,-0.38),(316.7,-0.48),(320.0,-0.38),(323.3,-0.26),(325.8,-0.08),(327.5,-0.02),(329.2,-0.17),(331.7,-0.20),(334.2,-0.23),(336.7,-0.38),(339.2,-0.35),(342.5,-0.26),
    (345.0,0.68),(347.5,0.65),(350.0,0.57),(352.5,0.47),(355.0,0.35),(357.5,0.47),(360.0,0.47),(363.3,0.50),(366.7,0.56),(369.2,0.62),(371.7,0.63),(374.2,0.53),(376.7,0.38),(378.3,0.20),(380.8,0.04),(383.3,0.02),(386.7,0.01),(390.0,-0.02),(393.3,-0.02),(396.7,0.0),(400.0,-0.02),(402.5,0.07),(405.0,0.23),(408.3,0.41),(411.7,0.53),(415.0,0.59),(418.3,0.68),(421.7,0.74),(424.2,0.84),(426.7,0.90),(429.2,0.77),(431.7,0.65),(433.3,0.53),(435.8,0.59),(438.3,0.50),(440.8,0.20),(442.5,0.01),(445.0,0.13),(446.7,0.35),(449.2,0.29),(451.7,0.29),(453.3,0.23)]

ROOT_ADD_CTL = [(0.0,-0.72),(2.5,-0.90),(5.0,-1.05),(7.5,-0.98),(10.0,-1.02),(12.5,-0.99),(15.8,-1.05),(18.3,-0.93),(20.8,-0.87),(23.3,-0.90),(25.8,-0.87),(28.3,-0.72),(30.8,-0.54),(33.3,-0.48),(35.8,-0.38),(37.5,-0.23),(39.2,0.01),(40.8,0.26),(43.3,0.44),(45.8,0.50),(48.3,0.53),(50.8,0.59),(53.3,0.65),(56.7,0.68),(60.0,0.71),(63.3,0.68),(66.7,0.71),(70.0,0.76),(73.3,0.87),(75.8,0.99),(78.3,1.02),(81.7,1.04),(84.2,1.02),(86.7,0.93),(89.2,0.65),(91.7,0.47),(94.2,0.35),(96.7,0.26),(99.2,0.20),(100.8,0.13),(102.5,-0.02),
    (105.8,-0.72),(107.5,-0.96),(110.0,-1.12),(113.3,-1.05),(116.7,-1.12),(120.0,-1.02),(123.3,-1.12),(126.7,-1.05),(130.0,-1.05),(133.3,-1.02),(136.7,-0.96),(139.2,-1.02),(140.8,-0.84),(143.3,-0.78),(145.8,-0.75),(148.3,-0.60),(150.0,-0.41),(151.7,-0.17),(153.3,0.13),(155.8,0.23),(158.3,0.26),(160.8,0.23),(163.3,0.32),(165.8,0.35),(167.5,0.41),(170.0,0.35),(173.3,0.29),(176.7,0.23),(179.2,0.18),
    (181.7,0.0),(185.0,0.07),(188.3,0.10),(193.3,0.12),(198.3,0.13),(203.3,0.07),(206.7,0.01),(210.0,-0.11),(213.3,-0.32),(216.7,-0.48),(220.0,-0.51),(223.3,-0.57),(226.7,-0.72),(230.0,-0.81),(233.3,-0.85),(236.7,-0.81),(240.0,-0.72),(243.3,-0.54),(246.7,-0.45),(249.2,-0.35),(251.7,-0.20),(254.2,-0.08),(256.7,-0.20),(259.2,-0.26),(260.8,-0.29),
    (263.3,-0.08),(266.7,-0.17),(270.0,-0.20),(273.3,-0.14),(276.7,-0.26),(280.0,-0.35),(283.3,-0.38),(286.7,-0.35),(290.8,-0.32),(295.0,-0.32),(298.3,-0.35),(301.7,-0.48),(305.0,-0.54),(308.3,-0.63),(311.7,-0.78),(315.0,-0.90),(318.3,-0.85),(321.7,-0.87),(325.0,-0.78),(327.5,-0.60),(329.2,-0.45),(331.7,-0.41),(335.0,-0.48),(338.3,-0.45),(340.8,-0.38),(342.5,-0.29),
    (345.0,-0.69),(348.3,-0.72),(351.7,-0.66),(355.0,-0.72),(358.3,-0.69),(361.7,-0.54),(365.0,-0.48),(368.3,-0.45),(372.5,-0.35),(375.0,-0.45),(378.3,-0.51),(381.7,-0.57),(385.0,-0.51),(388.3,-0.54),(391.7,-0.48),(395.0,-0.41),(398.3,-0.29),(401.7,-0.20),(403.3,-0.14),(406.7,-0.08),(410.0,-0.02),(413.3,0.02),(416.7,0.10),(420.0,0.20),(423.3,0.23),(426.7,0.30),(430.0,0.29),(433.3,0.26),(436.7,0.23),(440.0,0.13),(441.7,-0.05),(443.3,-0.16),(445.8,0.01),(448.3,0.13),(450.8,0.23),(453.3,0.26)]

ROOT_ADD_RSP = [(0.0,-0.66),(1.7,-0.84),(3.3,-1.09),(5.0,-1.21),(7.5,-1.12),(10.0,-1.05),(13.3,-0.99),(15.8,-0.90),(18.3,-0.81),(20.8,-0.72),(23.3,-0.57),(25.8,-0.48),(28.3,-0.45),(30.8,-0.45),(33.3,-0.41),(36.7,-0.35),(40.0,-0.26),(43.3,-0.20),(46.7,-0.11),(50.0,-0.04),(52.5,0.01),(55.0,0.04),(58.3,0.10),(60.8,0.16),(62.5,0.29),(65.0,0.32),(66.7,0.26),(69.2,0.16),(71.7,0.20),(74.2,0.27),(76.7,0.26),(80.0,0.23),(82.5,0.20),(85.0,0.10),(87.5,0.13),(90.0,0.23),(92.5,0.16),(95.0,0.10),(97.5,0.01),(100.0,-0.08),(102.5,-0.14),
    (105.8,-0.51),(109.2,-0.54),(112.5,-0.51),(115.8,-0.48),(119.2,-0.41),(121.7,-0.48),(125.0,-0.60),(127.5,-0.63),(130.0,-0.66),(132.5,-0.63),(135.0,-0.57),(138.3,-0.54),(141.7,-0.48),(144.2,-0.45),(146.7,-0.35),(148.3,-0.11),(150.0,0.13),(151.2,0.26),(152.5,0.20),(154.2,0.01),(156.7,-0.23),(159.2,-0.41),(161.7,-0.51),(165.0,-0.48),(168.3,-0.51),(170.8,-0.45),(173.3,-0.60),(175.8,-0.48),(179.2,-0.41),
    (181.7,-0.20),(185.0,-0.14),(188.3,-0.11),(193.3,-0.20),(196.7,-0.38),(198.3,-0.51),(204.2,-0.51),(208.3,-0.54),(213.3,-0.57),(216.7,-0.51),(220.3,-0.26),(221.7,-0.41),(225.0,-0.63),(229.2,-0.66),(233.3,-0.72),(236.7,-0.63),(240.0,-0.57),(243.3,-0.51),(247.5,-0.41),(250.0,-0.48),(252.5,-0.60),(255.8,-0.66),(258.3,-0.75),(260.8,-0.78),
    (263.3,-0.96),(266.7,-0.99),(270.0,-0.90),(273.3,-0.96),(276.7,-1.05),(280.0,-1.12),(283.3,-1.05),(286.7,-1.07),(290.8,-1.05),(295.0,-0.90),(296.7,-0.84),(300.0,-0.99),(302.5,-0.87),(305.0,-0.78),(308.3,-0.66),(311.7,-0.60),(315.0,-0.54),(318.3,-0.51),(321.7,-0.54),(325.0,-0.51),(327.5,-0.35),(329.2,-0.26),(331.7,-0.22),(334.2,-0.20),(336.7,-0.14),(340.0,-0.08),(342.5,-0.02),
    (345.0,-1.24),(348.3,-1.21),(351.7,-1.15),(355.0,-1.12),(358.3,-1.05),(359.2,-1.21),(360.0,-1.02),(363.3,-0.99),(366.7,-0.99),(370.0,-0.96),(373.3,-0.90),(376.7,-0.84),(379.2,-0.69),(381.7,-0.60),(385.0,-0.57),(388.3,-0.54),(391.7,-0.51),(395.0,-0.45),(398.3,-0.35),(401.7,-0.26),(403.3,-0.20),(405.8,-0.29),(409.2,-0.38),(412.5,-0.48),(415.0,-0.66),(418.3,-0.54),(421.7,-0.63),(424.2,-0.69),(427.5,-0.63),(430.8,-0.48),(434.2,-0.41),(438.3,-0.29),(441.7,-0.20),(445.0,-0.16),(448.3,-0.11),(450.8,-0.05),(453.3,0.04)]

# ---------------- figure geometry (pixels) ----------------
X_RANGE = [-5.0, 464.0]
X_DOM = [90 / W, 1028 / W]


def py(p):
    return 1 - p / H


def px(p):
    return p / W


PANELS = {
    "hyp_lod": dict(ax="", dom=(40, 472), rng=(-0.333, 7.116)),
    "hyp_add": dict(ax="2", dom=(508, 664), rng=(-2.24, 2.21)),
    "root_lod": dict(ax="3", dom=(715, 1152.7), rng=(-0.196, 4.095)),
    "root_add": dict(ax="4", dom=(1188, 1347), rng=(-1.458, 1.45)),
}

PANEL_DATA = {
    "hyp_lod": [HYP_LOD_INH, HYP_LOD_CTL, HYP_LOD_RSP],
    "hyp_add": [HYP_ADD_INH, HYP_ADD_CTL, HYP_ADD_RSP],
    "root_lod": [ROOT_LOD_INH, ROOT_LOD_CTL, ROOT_LOD_RSP],
    "root_add": [ROOT_ADD_INH, ROOT_ADD_CTL, ROOT_ADD_RSP],
}


def chrom_of(pos):
    idx = 0
    for i, s in enumerate(CHR_START):
        if pos >= s - 0.5:
            idx = i
    return idx


def split(points):
    xs, ys, prev = [], [], None
    for p, v in points:
        c = chrom_of(p)
        if prev is not None and c != prev:
            xs.append(None)
            ys.append(None)
        xs.append(p)
        ys.append(v)
        prev = c
    return xs, ys


fig = go.Figure()

# thresholds
for key, thr in (("hyp_lod", HYP_THRESH), ("root_lod", ROOT_THRESH)):
    a = PANELS[key]["ax"]
    for i in [2, 1, 0]:
        fig.add_trace(go.Scatter(x=[X_RANGE[0], CHR_END[-1]], y=[thr[i], thr[i]], mode="lines",
                                 line=dict(color=COLORS[i], width=2), xaxis="x" + a, yaxis="y" + a,
                                 showlegend=False, hoverinfo="skip"))

# curves
for key, series in PANEL_DATA.items():
    a = PANELS[key]["ax"]
    for i in [2, 1, 0]:
        xs, ys = split(series[i])
        fig.add_trace(go.Scatter(x=xs, y=ys, mode="lines", name=SERIES[i],
                                 line=dict(color=COLORS[i], width=2), xaxis="x" + a, yaxis="y" + a,
                                 showlegend=False, connectgaps=False))

# chromosome boundary lines
shapes = []
line_span = {"hyp_lod": (-0.333, 7.0), "hyp_add": (-1.92, 1.92),
             "root_lod": (-0.196, 4.0), "root_add": (-1.24, 1.23)}
for key, (y0, y1) in line_span.items():
    a = PANELS[key]["ax"]
    xs = CHR_START + CHR_END
    if key.endswith("lod"):
        xs = xs + [CHR_START[0] - 1.2]
    for xv in xs:
        shapes.append(dict(type="line", xref="x" + a, yref="y" + a, x0=xv, x1=xv, y0=y0, y1=y1,
                           line=dict(color="#555555", width=1.3), layer="below"))

# legend (drawn manually, long line samples)
LEG_Y = [1378, 1402, 1426]
annotations = []
for i, name in enumerate(SERIES):
    shapes.append(dict(type="line", xref="paper", yref="paper", x0=px(122), x1=px(228),
                       y0=py(LEG_Y[i]), y1=py(LEG_Y[i]), line=dict(color=COLORS[i], width=3)))
    annotations.append(dict(x=px(237), y=py(LEG_Y[i]), xref="paper", yref="paper", text="<b>%s</b>" % name,
                            showarrow=False, xanchor="left", yanchor="middle",
                            font=dict(family="DejaVu Sans", size=22, color="black")))

# titles
annotations.append(dict(x=px(565), y=py(24), xref="paper", yref="paper", xanchor="center", yanchor="middle",
                        text="<b>Bay-0 x Shahdara HYPOCOTYLS</b>", showarrow=False,
                        font=dict(family="DejaVu Sans", size=26, color="black")))
annotations.append(dict(x=px(540), y=py(700), xref="paper", yref="paper", xanchor="center", yanchor="middle",
                        text="<b>Bay-0 x Shahdara ROOTS</b>", showarrow=False,
                        font=dict(family="DejaVu Sans", size=26, color="black")))
# y titles
for txt, yc, fs in (("LOD", 242, 22), ("Additive Effect (mm)", 602, 21),
                    ("LOD", 927, 22), ("Additive Effect (mm)", 1275, 21)):
    annotations.append(dict(x=px(26), y=py(yc), xref="paper", yref="paper", text="<b>%s</b>" % txt,
                            textangle=-90, showarrow=False, xanchor="center", yanchor="middle",
                            font=dict(family="DejaVu Sans", size=fs, color="black")))

# axis arrows
for key in ("hyp_lod", "root_lod"):
    top, bot = PANELS[key]["dom"]
    annotations.append(dict(x=px(90), y=py(top - 16), xref="paper", yref="paper", text="", showarrow=True,
                            ax=0, ay=20, arrowhead=2, arrowsize=1.1, arrowwidth=3, arrowcolor="black"))
    annotations.append(dict(x=px(1031), y=py(bot), xref="paper", yref="paper", text="", showarrow=True,
                            ax=-20, ay=0, arrowhead=2, arrowsize=1.1, arrowwidth=3, arrowcolor="black"))
for key in ("hyp_add", "root_add"):
    top, bot = PANELS[key]["dom"]
    annotations.append(dict(x=px(90), y=py(top - 6), xref="paper", yref="paper", text="", showarrow=True,
                            ax=0, ay=12, arrowhead=1, arrowsize=1, arrowwidth=1.3, arrowcolor="#555555"))
    annotations.append(dict(x=px(90), y=py(bot + 6), xref="paper", yref="paper", text="", showarrow=True,
                            ax=0, ay=-12, arrowhead=1, arrowsize=1, arrowwidth=1.3, arrowcolor="#555555"))

layout = dict(width=W, height=H, autosize=False, margin=dict(l=0, r=0, t=0, b=0),
              paper_bgcolor="#f8f8f8", plot_bgcolor="#f8f8f8", showlegend=False,
              shapes=shapes, annotations=annotations)

tickfont = dict(family="Liberation Sans, Arial", size=19, color="#333333")
chrfont = dict(family="DejaVu Sans", size=21, color="black")
TICKS = {"hyp_lod": (HYP_LOD_TICKS, HYP_LOD_TICKTEXT), "hyp_add": (HYP_ADD_TICKS, HYP_ADD_TICKTEXT),
         "root_lod": (ROOT_LOD_TICKS, ROOT_LOD_TICKTEXT), "root_add": (ROOT_ADD_TICKS, ROOT_ADD_TICKTEXT)}

for key, p in PANELS.items():
    a = p["ax"]
    top, bot = p["dom"]
    is_lod = key.endswith("lod")
    tv, tt = TICKS[key]
    layout["yaxis" + a] = dict(domain=[py(bot), py(top)], range=list(p["rng"]), anchor="x" + a,
                               showgrid=False, fixedrange=True,
                               showline=True, linecolor="black" if is_lod else "#555555",
                               linewidth=3 if is_lod else 1.4,
                               ticks="outside", ticklen=5, tickwidth=2 if is_lod else 1.2,
                               tickcolor="black" if is_lod else "#555555",
                               tickvals=tv, ticktext=tt, tickfont=tickfont,
                               zeroline=not is_lod, zerolinecolor="#444444", zerolinewidth=1.3)
    xa = dict(domain=X_DOM, range=X_RANGE, anchor="y" + a, showgrid=False, zeroline=False, fixedrange=True)
    if is_lod:
        xa.update(showline=True, linecolor="black", linewidth=3, ticks="",
                  tickvals=CHR_LABEL_POS, ticktext=["<b>%s</b>" % c for c in CHROMS], tickfont=chrfont)
    else:
        xa.update(showline=False, showticklabels=False, ticks="")
    layout["xaxis" + a] = xa

fig.update_layout(**layout)
fig.write_html("out.html")
